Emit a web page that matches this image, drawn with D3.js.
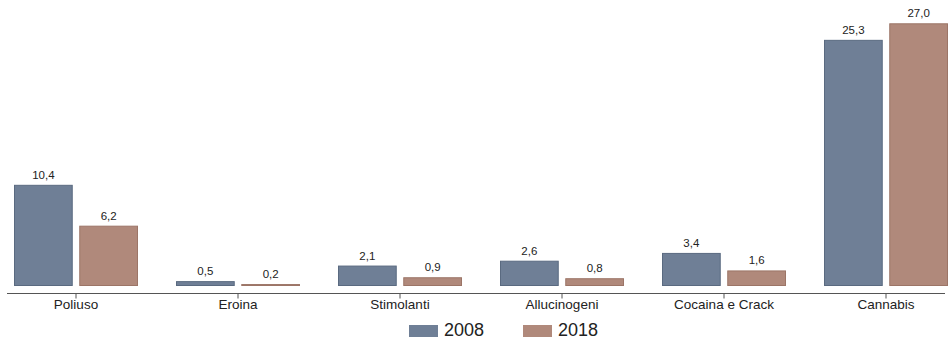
<!DOCTYPE html>
<html>
<head>
<meta charset="utf-8">
<script src="https://cdn.jsdelivr.net/npm/d3@7"></script>
<style>
  body { margin: 0; background: #fff; }
  text { font-family: "Liberation Sans", Arial, sans-serif; fill: #222; }
</style>
</head>
<body>
<div id="chart"></div>
<script>
var categories = ["Poliuso", "Eroina", "Stimolanti", "Allucinogeni", "Cocaina e Crack", "Cannabis"];
var series = ["2008", "2018"];
var values2008 = [10.4, 0.5, 2.1, 2.6, 3.4, 25.3];
var values2018 = [6.2, 0.2, 0.9, 0.8, 1.6, 27.0];
var colors = ["#6f7f96", "#b0897b"];
var strokes = ["#5a6a80", "#9c7567"];

var width = 949;
var height = 340;

var svg = d3.select("#chart")
  .append("svg")
  .attr("width", width)
  .attr("height", height);

// scales
var x = d3.scaleBand()
  .domain(categories)
  .range([-5, 967])
  .paddingInner(0)
  .paddingOuter(0);

var x1 = d3.scaleBand()
  .domain(series)
  .range([x.bandwidth() / 2 - 62, x.bandwidth() / 2 + 62])
  .paddingInner(0.1);

var y = d3.scaleLinear()
  .domain([0, 27])
  .range([286, 23.3]);

var data = categories.map(function(c, i) {
  return { cat: c, vals: [values2008[i], values2018[i]] };
});

// bars
var groups = svg.selectAll(".group")
  .data(data)
  .enter().append("g")
  .attr("class", "group")
  .attr("transform", function(d) { return "translate(" + x(d.cat) + ",0)"; });

groups.selectAll("rect")
  .data(function(d) { return d.vals.map(function(v, i) { return { v: v, s: series[i], i: i }; }); })
  .enter().append("rect")
  .attr("x", function(d) { return x1(d.s) + 0.5; })
  .attr("y", function(d) { return y(d.v) + 0.5; })
  .attr("width", function(d) { return x1.bandwidth() - 1; })
  .attr("height", function(d) { return Math.max(0, y(0) - y(d.v) - 1); })
  .style("fill", function(d) { return colors[d.i]; })
  .style("stroke", function(d) { return strokes[d.i]; })
  .style("stroke-width", 1);

groups.selectAll(".val")
  .data(function(d) { return d.vals.map(function(v, i) { return { v: v, s: series[i] }; }); })
  .enter().append("text")
  .attr("class", "val")
  .attr("x", function(d) { return x1(d.s) + x1.bandwidth() / 2; })
  .attr("y", function(d) { return y(d.v) - 6; })
  .attr("text-anchor", "middle")
  .style("font-size", "11.5px")
  .text(function(d) { return d3.format(".1f")(d.v).replace(".", ","); });

// x axis
var axis = svg.append("g")
  .attr("transform", "translate(0,293.5)")
  .call(d3.axisBottom(x).tickSize(5).tickSizeOuter(0));

axis.select(".domain")
  .attr("d", "M7,0H945")
  .style("stroke", "#555");
axis.selectAll(".tick line").style("stroke", "#555");
axis.selectAll(".tick text")
  .attr("y", 6)
  .attr("dy", "0.71em")
  .style("font-size", "13.5px")
  .style("font-family", "'Liberation Sans', Arial, sans-serif")
  .style("fill", "#222");

// legend
var legendX = [409, 523];
var legend = svg.selectAll(".legend")
  .data(series)
  .enter().append("g")
  .attr("class", "legend")
  .attr("transform", function(d, i) { return "translate(" + legendX[i] + ",325)"; });

legend.append("rect")
  .attr("width", 29)
  .attr("height", 12)
  .style("fill", function(d, i) { return colors[i]; });

legend.append("text")
  .attr("x", 35)
  .attr("y", 11)
  .style("font-size", "18px")
  .text(function(d) { return d; });
</script>
</body>
</html>
